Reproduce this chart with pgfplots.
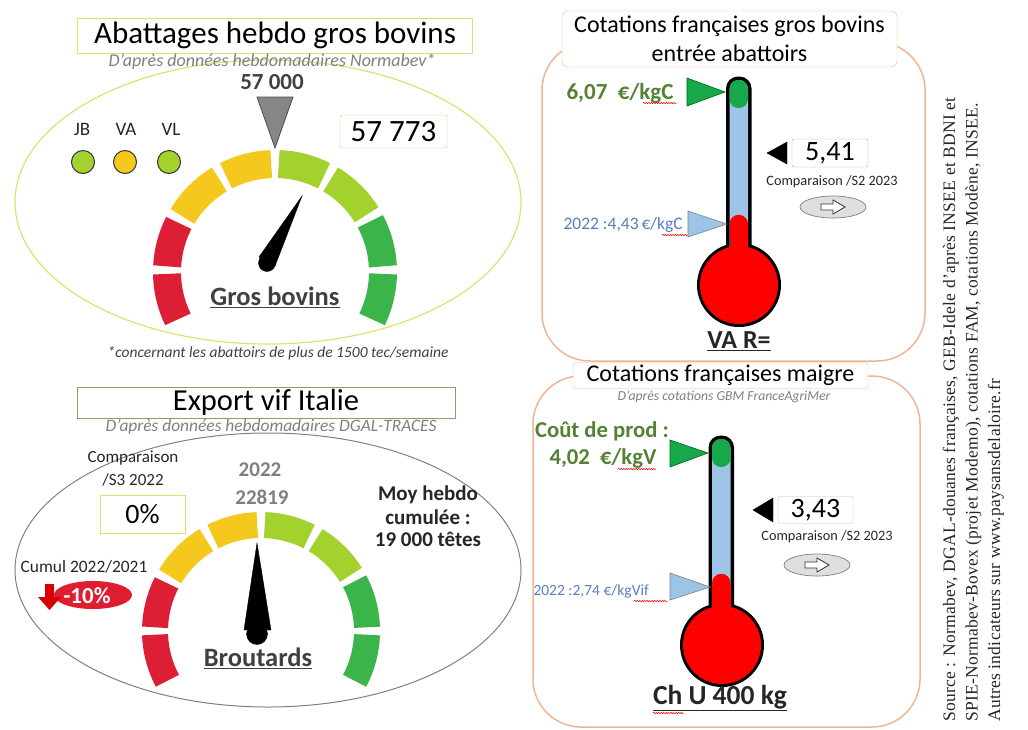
\documentclass[border=0pt]{standalone}
\usepackage{fontspec}
\setmainfont{Carlito}
\newfontfamily\srcfont[LetterSpace=1.5]{Liberation Serif}
\usepackage{pgfplots}
\pgfplotsset{compat=1.18}
\usetikzlibrary{decorations.pathmorphing}
\definecolor{gRed}{HTML}{DC1F35}
\definecolor{gYel}{HTML}{F5C81E}
\definecolor{gLgr}{HTML}{A3D12D}
\definecolor{gGrn}{HTML}{3BB44A}
\definecolor{thRed}{HTML}{FF0000}
\definecolor{thBlue}{HTML}{9DC3E6}
\definecolor{thGreen}{HTML}{17A84B}
\definecolor{txtGreen}{HTML}{548235}
\definecolor{txtBlue}{HTML}{5A7DBE}
\definecolor{orangeB}{HTML}{F2B593}
\definecolor{yelB}{HTML}{E0E070}
\definecolor{darkTxt}{HTML}{262626}
\definecolor{grayTxt}{HTML}{7F7F7F}
\definecolor{uTxt}{HTML}{404040}
\newcommand\fs[1]{\fontsize{#1bp}{#1bp}\selectfont}
% cx, cy, a1, a2, r, lw, color
\newcommand\gseg[7]{\draw[line width=#6bp, #7] ([shift={(#3:#5bp)}]axis cs:#1,#2) arc[start angle=#3, end angle=#4, radius=#5bp];}
\newcommand\squig[3]{\draw[red, line width=0.5bp, decorate, decoration={snake, amplitude=0.7bp, segment length=2.5bp}] (axis cs:#1,#3) -- (axis cs:#2,#3);}
\begin{document}
\begin{tikzpicture}
\begin{axis}[
  scale only axis, width=1028bp, height=730bp,
  xmin=0, xmax=1028, ymin=0, ymax=730, y dir=reverse,
  hide axis, clip=false]
% ===================== TOP LEFT: Abattages =====================
\draw[yelB, line width=1.2bp] (axis cs:268,202) ellipse [x radius=253bp, y radius=142bp];
\node[draw=yelB, fill=white, minimum width=395bp, minimum height=35bp, inner sep=0pt] at (axis cs:275,35.5) {\fs{31}Abattages hebdo gros bovins};
\node[text=grayTxt] at (axis cs:272,62) {\fs{18}\itshape D’après données hebdomadaires Normabev*};
\node[text=uTxt] at (axis cs:272,82) {\fs{23}\bfseries 57 000};
\node[text=darkTxt] at (axis cs:82,129) {\fs{19}JB};
\node[text=darkTxt] at (axis cs:126,129) {\fs{19}VA};
\node[text=darkTxt] at (axis cs:171,129) {\fs{19}VL};
\addplot[only marks, mark=*, mark size=11.5bp, mark options={draw=black!80, line width=1bp, fill=gLgr}] coordinates {(83,162) (169,162)};
\addplot[only marks, mark=*, mark size=11.5bp, mark options={draw=black!80, line width=1bp, fill=gYel}] coordinates {(125,162)};
\node[draw=yelB!70!gray, rounded corners=2bp, minimum width=107bp, minimum height=33bp, inner sep=0pt] at (axis cs:393.5,131.5) {\fs{31}57 773};
% gauge 1
\gseg{275}{272}{206}{181}{108}{28}{gRed}
\gseg{275}{272}{177}{153}{108}{28}{gRed}
\gseg{275}{272}{149}{121}{108}{28}{gYel}
\gseg{275}{272}{117}{92}{108}{28}{gYel}
\gseg{275}{272}{88}{63}{108}{28}{gLgr}
\gseg{275}{272}{59}{32}{108}{28}{gLgr}
\gseg{275}{272}{28}{3}{108}{28}{gGrn}
\gseg{275}{272}{-1}{-26}{108}{28}{gGrn}
% target marker 57 000
\addplot[fill=gray!95, draw=black!70, line width=0.8bp] coordinates {(257,97) (293,97) (275,148)} -- cycle;
% needle 1
\addplot[fill=black, draw=black] coordinates {(302,196) (275,266) (259,257)} -- cycle;
\addplot[only marks, mark=*, mark size=8.5bp, black] coordinates {(267,263)};
\node[text=uTxt] at (axis cs:275,297) {\fs{26.5}\bfseries\underline{Gros bovins}};
\node[text=uTxt] at (axis cs:278,353) {\fs{15.5}\itshape *concernant les abattoirs de plus de 1500 tec/semaine};
% ===================== BOTTOM LEFT: Export =====================
\draw[gray, line width=1bp] (axis cs:268,570) ellipse [x radius=253bp, y radius=137bp];
\node[draw=black!55!olive!60, fill=white, minimum width=378bp, minimum height=31bp, inner sep=0pt] at (axis cs:266,402.5) {\fs{30.5}Export vif Italie};
\node[text=grayTxt] at (axis cs:271,427) {\fs{17.4}\itshape D’après données hebdomadaires DGAL-TRACES};
\node[text=darkTxt] at (axis cs:133,458) {\fs{17}Comparaison};
\node[text=darkTxt] at (axis cs:133,480) {\fs{17}/S3 2022};
\node[draw=yelB, minimum width=85bp, minimum height=38bp, inner sep=0pt] at (axis cs:142.5,514) {\fs{28}0\%};
\node[text=darkTxt] at (axis cs:84,567) {\fs{17.4}Cumul 2022/2021};
% red arrow and bubble
\fill[gRed!90!red] (axis cs:93,595) ellipse [x radius=39bp, y radius=14bp];
\fill[red!85!black] (axis cs:45,584) rectangle (axis cs:54,599) ;
\fill[red!85!black] (axis cs:38,597) -- (axis cs:61,597) -- (axis cs:49.5,610) -- cycle;
\node[text=white] at (axis cs:87,596) {\fs{23}\bfseries -10\%};
\node[text=grayTxt] at (axis cs:260,470) {\fs{21}\bfseries 2022};
\node[text=grayTxt] at (axis cs:262,497) {\fs{21}\bfseries 22819};
\node[text=darkTxt] at (axis cs:428,495) {\fs{21}\bfseries Moy hebdo};
\node[text=darkTxt] at (axis cs:428,517) {\fs{21}\bfseries cumulée :};
\node[text=darkTxt] at (axis cs:428,539) {\fs{21}\bfseries 19 000 têtes};
% gauge 2
\gseg{261}{631}{208}{182}{106}{26}{gRed}
\gseg{261}{631}{178}{153}{106}{26}{gRed}
\gseg{261}{631}{149}{121}{106}{26}{gYel}
\gseg{261}{631}{117}{92}{106}{26}{gYel}
\gseg{261}{631}{88}{63}{106}{26}{gLgr}
\gseg{261}{631}{59}{32}{106}{26}{gLgr}
\gseg{261}{631}{28}{2}{106}{26}{gGrn}
\gseg{261}{631}{-2}{-28}{106}{26}{gGrn}
% needle 2
\addplot[fill=black, draw=black] coordinates {(257,543) (271,630) (244,630)} -- cycle;
\addplot[only marks, mark=*, mark size=10.5bp, black] coordinates {(257,634)};
\node[text=uTxt] at (axis cs:258,658) {\fs{26.5}\bfseries\underline{Broutards}};
% ===================== TOP RIGHT: Cotations gros bovins =====================
\draw[orangeB, line width=1.5bp, rounded corners=48bp] (axis cs:542,42) rectangle (axis cs:925,361);
\node[draw=orangeB, fill=white, rounded corners=6bp, minimum width=335bp, minimum height=56bp, inner sep=0pt] at (axis cs:729.5,39) {};
\node at (axis cs:729.5,26) {\fs{24}Cotations françaises gros bovins};
\node at (axis cs:729.5,53) {\fs{24}entrée abattoirs};
% thermometer 1
\fill[black] (axis cs:726,76.5) [rounded corners=12bp] rectangle (axis cs:751.5,275);
\fill[black] (axis cs:739,285) circle [radius=42bp];
\fill[thBlue] (axis cs:729.5,80) [rounded corners=9bp] rectangle (axis cs:748,260);
\fill[thGreen] (axis cs:729.5,80) [rounded corners=9bp] rectangle (axis cs:748,108);
\fill[thRed] (axis cs:729.5,226) rectangle (axis cs:748,265);
\fill[thRed] (axis cs:738.75,224) circle [radius=9.25bp];
\fill[thRed] (axis cs:739,285) circle [radius=39bp];
% markers
\addplot[fill=thGreen, draw=green!40!black, line width=0.6bp] coordinates {(687,78) (725,92) (687,106)} -- cycle;
\addplot[fill=black] coordinates {(767,153) (787,142) (787,164)} -- cycle;
\addplot[fill=thBlue, draw=gray, line width=0.6bp] coordinates {(688,211) (727,224) (688,237)} -- cycle;
\node[text=txtGreen, anchor=west] at (axis cs:563,93) {\fs{23}\bfseries 6,07\ \ €/kgC};
\squig{643}{677}{103}
\node[draw=thBlue!70!gray, rounded corners=2bp, minimum width=76bp, minimum height=28bp, inner sep=0pt] at (axis cs:830,153) {\fs{28}5,41};
\node[text=darkTxt] at (axis cs:832,182) {\fs{14.3}Comparaison /S2 2023};
\filldraw[fill=gray!25, draw=gray, line width=0.7bp] (axis cs:833,207) ellipse [x radius=33bp, y radius=11bp];
\draw[black!80, fill=white, line width=0.8bp] (axis cs:821,204) -- (axis cs:833,204) -- (axis cs:833,200) -- (axis cs:845,207) -- (axis cs:833,214) -- (axis cs:833,210) -- (axis cs:821,210) -- cycle;
\node[text=txtBlue, anchor=west] at (axis cs:560,225) {\fs{17.5}2022 :4,43\,€/kgC};
\squig{662}{688}{235}
\node[text=darkTxt] at (axis cs:739,341) {\fs{26}\bfseries\underline{VA R=}};
% ===================== BOTTOM RIGHT: Cotations maigre =====================
\draw[orangeB, line width=1.5bp, rounded corners=48bp] (axis cs:533,376) rectangle (axis cs:920,727);
\node[draw=orangeB, fill=white, rounded corners=3bp, minimum width=295bp, minimum height=26bp, inner sep=0pt] at (axis cs:720.5,375.5) {\fs{24}Cotations françaises maigre};
\node[text=grayTxt] at (axis cs:724,397) {\fs{13.7}\itshape D’après cotations GBM FranceAgriMer};
% thermometer 2
\fill[black] (axis cs:708.5,435.5) [rounded corners=12bp] rectangle (axis cs:734,635);
\fill[black] (axis cs:722,645) circle [radius=42bp];
\fill[thBlue] (axis cs:712,439) [rounded corners=9bp] rectangle (axis cs:730.5,620);
\fill[thGreen] (axis cs:712,439) [rounded corners=9bp] rectangle (axis cs:730.5,467);
\fill[thRed] (axis cs:712,585) rectangle (axis cs:730.5,625);
\fill[thRed] (axis cs:721.25,583) circle [radius=9.25bp];
\fill[thRed] (axis cs:722,645) circle [radius=39bp];
\addplot[fill=thGreen, draw=green!40!black, line width=0.6bp] coordinates {(670,440) (708,453) (670,467)} -- cycle;
\addplot[fill=black] coordinates {(753,510) (773,498) (773,522)} -- cycle;
\addplot[fill=thBlue, draw=gray, line width=0.6bp] coordinates {(670,573) (710,587) (670,600)} -- cycle;
\node[text=txtGreen] at (axis cs:602,431) {\fs{22.7}\bfseries Coût de prod :};
\node[text=txtGreen] at (axis cs:603,458) {\fs{22.7}\bfseries 4,02\ \ €/kgV};
\squig{618}{656}{469}
\node[draw=gray!50, rounded corners=2bp, minimum width=75bp, minimum height=27bp, inner sep=0pt] at (axis cs:815.5,510) {\fs{28}3,43};
\node[text=darkTxt] at (axis cs:827,537) {\fs{14.3}Comparaison /S2 2023};
\filldraw[fill=gray!25, draw=gray, line width=0.7bp] (axis cs:817,565) ellipse [x radius=33bp, y radius=11bp];
\draw[black!80, fill=white, line width=0.8bp] (axis cs:805,562) -- (axis cs:817,562) -- (axis cs:817,558) -- (axis cs:829,565) -- (axis cs:817,572) -- (axis cs:817,568) -- (axis cs:805,568) -- cycle;
\node[text=txtBlue, anchor=west] at (axis cs:530,591) {\fs{15.5}2022 :2,74 €/kgVif};
\squig{634}{668}{601}
\node[text=darkTxt] at (axis cs:720,698) {\fs{27.5}\bfseries\underline{Ch U 400 kg}};
\squig{653}{684}{713}
% ===================== SOURCE =====================
\node[rotate=90, anchor=base west, inner sep=0pt, text=darkTxt] at (axis cs:955,722) {\srcfont\fs{17.5}Source : Normabev, DGAL-douanes françaises, GEB-Idele d’après INSEE et BDNI et};
\node[rotate=90, anchor=base west, inner sep=0pt, text=darkTxt] at (axis cs:977.5,722) {\srcfont\fs{17.5}SPIE-Normabev-Bovex (projet Modemo), cotations FAM, cotations Modène, INSEE.};
\node[rotate=90, anchor=base west, inner sep=0pt, text=darkTxt] at (axis cs:1000,722) {\srcfont\fs{17.5}Autres indicateurs sur www.paysansdelaloire.fr};
\end{axis}
\pgfresetboundingbox
\path[use as bounding box] (0,0) rectangle (1028bp,730bp);
\end{tikzpicture}
\end{document}
